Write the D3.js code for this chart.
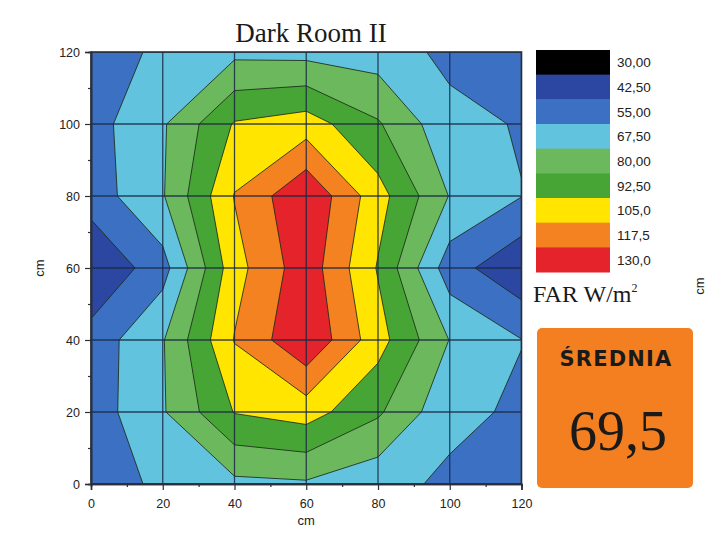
<!DOCTYPE html>
<html>
<head>
<meta charset="utf-8">
<script src="https://cdn.jsdelivr.net/npm/d3@7"></script>
<style>
  body { margin: 0; background: #ffffff; }
  svg { display: block; }
</style>
</head>
<body>
<svg id="chart" width="720" height="541"></svg>
<script>
// Measurement grid positions (cm)
const xPositions = [0, 20, 40, 60, 80, 100, 120];
const yPositions = [120, 100, 80, 60, 40, 20, 0];

// FAR readings (W/m²) along each row, x = 0 … 120 cm
const farY120 = [46.3, 58.3, 64.3, 63.3, 61.3, 52.0, 48.8];
const farY100 = [50.0, 66.0, 93.6, 98.8, 81.3, 58.6, 54.1];
const farY80  = [48.3, 66.5, 105.6, 128.5, 97.5, 66.9, 55.3];
const farY60  = [30.6, 50.0, 100.3, 125.0, 91.5, 48.1, 32.3];
const farY40  = [47.5, 66.6, 105.6, 128.6, 97.5, 67.1, 55.3];
const farY20  = [48.3, 66.3, 93.1, 98.1, 81.9, 58.1, 53.1];
const farY0   = [46.3, 58.3, 64.4, 65.8, 58.9, 52.8, 48.8];

// Colour scale: each colour is the band that ends at its level
const levels = [30, 42.5, 55, 67.5, 80, 92.5, 105, 117.5, 130];
const levelLabels = ["30,00", "42,50", "55,00", "67,50", "80,00", "92,50", "105,0", "117,5", "130,0"];
const bandColors = ["#000000", "#2b47a2", "#3c70c2", "#62c3de", "#6cb95d", "#47a536", "#ffe500", "#f58220", "#e4232a"];

// Axis ticks (cm)
const axisTicks = [0, 20, 40, 60, 80, 100, 120];
const minorTicks = [10, 30, 50, 70, 90, 110];

const titleText = "Dark Room II";
const meanLabel = "ŚREDNIA";

const svg = d3.select("#chart");
const plot = { left: 91, right: 521.5, top: 52, bottom: 484 };

const x = d3.scaleLinear().domain([0, 120]).range([plot.left, plot.right]);
const y = d3.scaleLinear().domain([0, 120]).range([plot.bottom, plot.top]);

// Grid rows from top (y = 120) to bottom (y = 0)
const rows = [farY120, farY100, farY80, farY60, farY40, farY20, farY0];
const nx = xPositions.length, ny = yPositions.length;
const values = rows.flat();

// Contour-space coordinates: value i sits at i + 0.5
const gx = d3.scaleLinear().domain([0.5, nx - 0.5]).range([xPositions[0], xPositions[nx - 1]]);
const gy = d3.scaleLinear().domain([0.5, ny - 0.5]).range([yPositions[0], yPositions[ny - 1]]);

const projection = d3.geoTransform({
  point: function (px, py) { this.stream.point(x(gx(px)), y(gy(py))); }
});
const path = d3.geoPath(projection);

const thresholds = levels.slice(0, levels.length - 1);
const contours = d3.contours().size([nx, ny]).smooth(true).thresholds(thresholds)(values);

svg.append("defs").append("clipPath").attr("id", "plot-clip")
  .append("rect")
  .attr("x", plot.left).attr("y", plot.top)
  .attr("width", plot.right - plot.left).attr("height", plot.bottom - plot.top);

const field = svg.append("g").attr("clip-path", "url(#plot-clip)");

field.selectAll("path.band")
  .data(contours)
  .join("path")
  .attr("class", "band")
  .attr("d", path)
  .attr("fill", (d, i) => bandColors[i + 1])
  .attr("stroke", "none");

field.selectAll("path.iso")
  .data(contours.slice(1))
  .join("path")
  .attr("class", "iso")
  .attr("d", path)
  .attr("fill", "none")
  .attr("stroke", "#1c2a1a")
  .attr("stroke-opacity", 0.85)
  .attr("stroke-width", 1)
  .attr("stroke-linejoin", "round");

// Grid lines at each measurement position
field.selectAll("line.vgrid")
  .data(axisTicks)
  .join("line")
  .attr("x1", d => x(d)).attr("x2", d => x(d))
  .attr("y1", plot.top).attr("y2", plot.bottom)
  .attr("stroke", "#1a2844").attr("stroke-width", 1.3).attr("stroke-opacity", 0.85);

field.selectAll("line.hgrid")
  .data(axisTicks)
  .join("line")
  .attr("y1", d => y(d)).attr("y2", d => y(d))
  .attr("x1", plot.left).attr("x2", plot.right)
  .attr("stroke", "#1a2844").attr("stroke-width", 1.3).attr("stroke-opacity", 0.85);

// Frame
svg.append("rect")
  .attr("x", plot.left).attr("y", plot.top)
  .attr("width", plot.right - plot.left).attr("height", plot.bottom - plot.top)
  .attr("fill", "none").attr("stroke", "#2a2f38").attr("stroke-width", 1.6);

// Axes
const tickFont = "Liberation Sans, Arial, sans-serif";
svg.append("g")
  .attr("transform", `translate(0,${plot.bottom})`)
  .call(d3.axisBottom(x).tickValues(axisTicks).tickSize(6).tickPadding(9).tickFormat(d3.format("d")));
svg.append("g")
  .attr("transform", `translate(${plot.left},0)`)
  .call(d3.axisLeft(y).tickValues(axisTicks).tickSize(6).tickPadding(5).tickFormat(d3.format("d")));

svg.append("g")
  .attr("transform", `translate(0,${plot.bottom})`)
  .call(d3.axisBottom(x).tickValues(minorTicks).tickSize(3).tickFormat(""));
svg.append("g")
  .attr("transform", `translate(${plot.left},0)`)
  .call(d3.axisLeft(y).tickValues(minorTicks).tickSize(3).tickFormat(""));

svg.selectAll(".domain").attr("stroke", "#2a2f38").attr("stroke-width", 1.6);
svg.selectAll(".tick line").attr("stroke", "#2a2f38").attr("stroke-width", 1.2);
svg.selectAll(".tick text")
  .attr("font-family", tickFont).attr("font-size", 12.5).attr("fill", "#222");

// Axis titles
svg.append("text")
  .attr("x", x(60)).attr("y", 525)
  .attr("text-anchor", "middle")
  .attr("font-family", tickFont).attr("font-size", 13).attr("fill", "#222")
  .text("cm");
svg.append("text")
  .attr("transform", `translate(44,${y(60)}) rotate(-90)`)
  .attr("text-anchor", "middle")
  .attr("font-family", tickFont).attr("font-size", 13).attr("fill", "#222")
  .text("cm");
svg.append("text")
  .attr("transform", `translate(704,286) rotate(-90)`)
  .attr("text-anchor", "middle")
  .attr("font-family", tickFont).attr("font-size", 13).attr("fill", "#222")
  .text("cm");

// Title
svg.append("text")
  .attr("x", 311).attr("y", 42)
  .attr("text-anchor", "middle")
  .attr("font-family", "Liberation Serif, 'DejaVu Serif', serif")
  .attr("font-size", 27).attr("fill", "#1a1a1a")
  .text(titleText);

// Legend
const legend = { x: 536, top: 50, width: 74, height: 222 };
const band = d3.scaleBand().domain(d3.range(levels.length)).range([legend.top, legend.top + legend.height]).padding(0);
const lg = svg.append("g");
lg.selectAll("rect")
  .data(levels)
  .join("rect")
  .attr("x", legend.x).attr("y", (d, i) => band(i))
  .attr("width", legend.width).attr("height", band.bandwidth() + 0.5)
  .attr("fill", (d, i) => bandColors[i]);
lg.selectAll("text")
  .data(levelLabels)
  .join("text")
  .attr("x", legend.x + legend.width + 7)
  .attr("y", (d, i) => band(i) + band.bandwidth() / 2 + 5)
  .attr("font-family", "'Liberation Sans Narrow', 'Arial Narrow', 'Liberation Sans', sans-serif")
  .attr("font-size", 13.5).attr("fill", "#222")
  .text(d => d);

const unit = svg.append("text")
  .attr("x", 533).attr("y", 302)
  .attr("font-family", "Liberation Serif, serif")
  .attr("font-size", 24).attr("fill", "#1a1a1a");
unit.append("tspan").text("FAR W/m");
unit.append("tspan").attr("dy", -10).attr("font-size", 12).text("2");

// Average panel
const mean = d3.mean(values);
const meanText = (Math.round(mean * 10) / 10).toFixed(1).replace(".", ",");
svg.append("rect")
  .attr("x", 537).attr("y", 328).attr("width", 156).attr("height", 160)
  .attr("rx", 5).attr("fill", "#f47f20");
svg.append("text")
  .attr("x", 616).attr("y", 366)
  .attr("text-anchor", "middle")
  .attr("font-family", "'DejaVu Sans', sans-serif").attr("font-weight", "bold")
  .attr("font-size", 21).attr("letter-spacing", 1.2).attr("fill", "#1a1a1a")
  .text(meanLabel);
svg.append("text")
  .attr("x", 618).attr("y", 450)
  .attr("text-anchor", "middle")
  .attr("font-family", "Liberation Serif, serif")
  .attr("font-size", 56).attr("fill", "#1a1a1a")
  .text(meanText);
</script>
</body>
</html>
